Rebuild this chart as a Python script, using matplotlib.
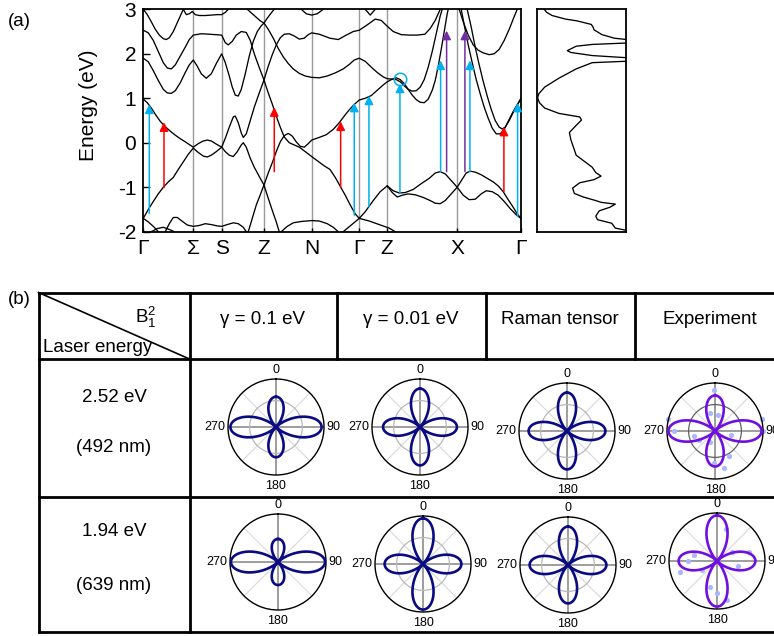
import numpy as np
import matplotlib
matplotlib.use('Agg')
import matplotlib.pyplot as plt

plt.rcParams['font.family'] = ['Liberation Sans', 'DejaVu Sans']
plt.rcParams['axes.unicode_minus'] = False
plt.rcParams['mathtext.fontset'] = 'custom'
plt.rcParams['mathtext.rm'] = 'Liberation Sans'
plt.rcParams['mathtext.it'] = 'Liberation Sans:italic'

# ---------------- data: band structure (k-path coordinate, energy in eV) ----------------
kpoint_pos = [0, 50, 78.4, 120.7, 168.4, 216, 244, 314, 377.8]
kpoint_labels = ['Γ', 'Σ', 'S', 'Z', 'N', 'Γ', 'Z', 'X', 'Γ']
energy_ticks = [-2, -1, 0, 1, 2, 3]

band_a_k = [0, 4, 8, 12, 17, 22, 27, 32, 37, 42, 46, 50, 55, 60, 64, 68, 73, 78.4, 82, 86, 90, 92, 95, 98, 100, 103, 107, 111, 116, 120.7,
            125, 129, 133, 137, 141, 146, 151, 156, 161, 165, 168.4, 176, 186.7, 195, 203, 210, 216, 224, 232, 238, 244, 250, 258, 266, 274, 281.7, 287, 292, 296, 297]
band_a_E = [0.98, 0.9, 0.78, 0.64, 0.48, 0.36, 0.26, 0.17, 0.09, 0.02, -0.04, -0.1, -0.02, 0.04, 0.06, 0.04, -0.03, -0.1, 0.1, 0.35, 0.58, 0.6, 0.45, 0.22, 0.12, 0.2, 0.5, 0.8, 1.12, 1.41,
            1.72, 1.98, 2.2, 2.36, 2.44, 2.45, 2.4, 2.33, 2.35, 2.43, 2.47, 2.44, 2.35, 2.32, 2.42, 2.5, 2.53, 2.65, 2.78, 2.75, 2.62, 2.5, 2.43, 2.42, 2.42, 2.44, 2.57, 2.75, 2.95, 3.0]

band_b_k = [0, 5, 10, 15, 20, 25, 30, 35, 40, 45, 50, 55, 60, 64, 68, 73, 78.4, 82, 86, 90, 94, 98, 100, 103, 107, 111, 116, 120.7, 125, 129, 133, 136]
band_b_E = [-1.7, -1.5, -1.32, -1.15, -1.0, -0.88, -0.78, -0.6, -0.43, -0.26, -0.12, -0.22, -0.3, -0.32, -0.28, -0.2, -0.1, -0.2, -0.28, -0.31, -0.2, -0.05, 0.0, -0.1, -0.35, -0.55, -0.76, -0.95, -1.25, -1.52, -1.78, -2.0]

band_c_k = [0, 5, 10, 15, 20, 24, 28, 32, 37, 42, 46, 50, 58, 66, 72, 78.4, 82, 85, 89, 93, 98, 103, 107, 111, 115, 120.7, 125, 129, 133, 137, 141, 146, 151, 156, 162, 168.4,
            175, 181, 186.7, 192, 197, 202, 207, 212, 216, 222, 230, 237, 244, 250, 256, 262, 270, 278, 286, 292, 297, 302, 308, 314, 320, 326, 332, 338, 343, 349, 355, 361, 367, 373, 377.8]
band_c_E = [2.53, 2.47, 2.3, 2.05, 1.8, 1.68, 1.66, 1.75, 1.95, 2.15, 2.32, 2.42, 2.45, 2.44, 2.43, 2.42, 2.25, 2.2, 2.28, 2.42, 2.5, 2.48, 2.3, 2.0, 1.75, 1.41, 1.12, 0.87, 0.6, 0.35, 0.13, 0.0, -0.05, -0.1, -0.2, -0.31,
            -0.42, -0.52, -0.6, -0.78, -0.98, -1.18, -1.4, -1.6, -1.7, -1.55, -1.3, -1.1, -0.97, -1.08, -1.13, -1.12, -1.05, -0.92, -0.8, -0.68, -0.65, -0.7, -0.85, -1.0, -1.18, -1.28, -1.27, -1.15, -1.08, -1.1, -1.18, -1.32, -1.48, -1.62, -1.7]

band_d_k = [105, 109, 113, 117, 120.7, 125, 129, 133, 137, 141, 145, 149, 153, 157, 161, 165, 168.4, 176, 183, 190, 196, 201, 206, 211, 216, 222, 228, 234, 240, 244, 249, 253, 257, 261, 265, 269, 273, 277, 281, 285, 289, 292, 295, 298, 301, 304, 305]
band_d_E = [-2.0, -1.7, -1.4, -1.17, -0.95, -0.68, -0.45, -0.2, 0.02, 0.16, 0.21, 0.15, 0.02, -0.08, -0.1, -0.02, 0.06, 0.12, 0.18, 0.3, 0.45, 0.6, 0.74, 0.86, 0.96, 1.0, 1.06, 1.18, 1.3, 1.37, 1.43, 1.46, 1.42, 1.33, 1.2, 1.07, 0.97, 0.91, 0.9, 0.98, 1.18, 1.4, 1.72, 2.1, 2.5, 2.9, 3.0]

band_e_k = [0, 5, 10, 15, 20, 24, 28, 32, 37, 42, 46, 50, 54, 58, 63, 68, 73, 78.4, 82, 86, 89, 92, 95, 98, 102, 106, 110, 114, 118, 120.7, 124, 128, 131]
band_e_E = [1.9, 1.82, 1.62, 1.4, 1.2, 1.12, 1.11, 1.17, 1.35, 1.58, 1.75, 1.86, 1.72, 1.55, 1.45, 1.55, 1.78, 2.0, 1.8, 1.5, 1.25, 1.07, 1.05, 1.2, 1.55, 1.95, 2.28, 2.5, 2.63, 2.69, 2.8, 2.92, 3.0]

band_f_k = [104, 108, 113, 117, 120.7, 125, 130, 135, 140, 145, 150, 156, 162, 168.4, 176, 184, 192, 200, 206, 211, 216, 222, 228, 234, 240, 244, 249, 253, 257, 261, 265, 269, 273, 277, 281, 285, 289, 293, 297, 299]
band_f_E = [3.0, 2.92, 2.82, 2.74, 2.69, 2.55, 2.35, 2.12, 1.93, 1.78, 1.66, 1.56, 1.5, 1.47, 1.46, 1.5, 1.57, 1.66, 1.76, 1.86, 1.9, 1.83, 1.7, 1.58, 1.48, 1.44, 1.43, 1.42, 1.37, 1.28, 1.2, 1.16, 1.17, 1.25, 1.42, 1.7, 2.05, 2.45, 2.85, 3.0]

band_top1_k = [0, 4, 8, 12, 16, 20, 23, 26, 30, 34, 38, 40]
band_top1_E = [3.0, 2.88, 2.72, 2.55, 2.42, 2.34, 2.32, 2.36, 2.5, 2.7, 2.9, 3.0]
band_top2_k = [40, 43, 46, 49, 52, 56, 62, 68, 74, 78.4, 82, 85]
band_top2_E = [3.0, 2.88, 2.9, 2.95, 2.88, 2.86, 2.86, 2.87, 2.88, 2.88, 2.93, 3.0]
band_top3_k = [158, 163, 168.4, 174, 180]
band_top3_E = [3.0, 2.9, 2.87, 2.9, 3.0]
band_top4_k = [222, 227, 232]
band_top4_E = [3.0, 2.87, 3.0]

band_bot1_k = [0, 5, 10, 15]
band_bot1_E = [-1.7, -1.78, -1.88, -2.0]
band_bot2_k = [8, 14, 20, 26, 31]
band_bot2_E = [-2.0, -1.93, -1.9, -1.95, -2.0]
band_bot3_k = [22, 26, 30, 34, 38, 44, 50, 56, 62, 68, 74, 78.4, 84, 90, 95, 100, 103]
band_bot3_E = [-2.0, -1.82, -1.68, -1.68, -1.75, -1.85, -1.88, -1.86, -1.82, -1.84, -1.87, -1.88, -1.84, -1.8, -1.82, -1.9, -2.0]
band_bot4_k = [138, 144, 150, 158, 168.4, 176, 184, 190, 195]
band_bot4_E = [-2.0, -1.88, -1.8, -1.77, -1.75, -1.76, -1.82, -1.9, -2.0]
band_g2_k = [200, 208, 216, 226, 236, 246, 252]
band_g2_E = [-2.0, -1.85, -1.7, -1.76, -1.84, -1.92, -2.0]

band_l2_k = [244, 249, 254, 259, 265, 272, 280, 287, 292, 297, 302, 308, 314, 319, 323, 327, 332, 338, 344, 350, 355, 360, 365, 370, 374, 377.8]
band_l2_E = [-0.97, -1.12, -1.22, -1.18, -1.15, -1.17, -1.23, -1.3, -1.36, -1.37, -1.3, -1.15, -1.0, -0.82, -0.68, -0.64, -0.66, -0.72, -0.8, -0.88, -0.97, -1.1, -1.28, -1.45, -1.6, -1.7]

band_v1_k = [318, 321, 325, 329, 333, 337, 341, 345, 349, 353, 357, 361, 365, 369, 373, 377.8]
band_v1_E = [3.0, 2.65, 2.2, 1.8, 1.42, 1.1, 0.8, 0.55, 0.33, 0.2, 0.2, 0.3, 0.48, 0.66, 0.82, 0.98]
band_v2_k = [324, 328, 332, 336, 340, 344, 348, 352, 356, 359, 362, 366, 370, 374, 377.8]
band_v2_E = [3.0, 2.6, 2.15, 1.75, 1.38, 1.05, 0.75, 0.5, 0.35, 0.31, 0.35, 0.5, 0.68, 0.85, 1.0]
band_w_k = [316, 320, 325, 330, 335, 340, 346, 351, 356, 361, 366, 370, 374]
band_w_E = [3.0, 2.72, 2.42, 2.2, 2.08, 2.02, 1.98, 2.0, 2.1, 2.3, 2.55, 2.78, 3.0]

bands = [(band_a_k, band_a_E), (band_b_k, band_b_E), (band_c_k, band_c_E), (band_d_k, band_d_E),
         (band_e_k, band_e_E), (band_f_k, band_f_E), (band_top1_k, band_top1_E), (band_top2_k, band_top2_E),
         (band_top3_k, band_top3_E), (band_top4_k, band_top4_E), (band_bot1_k, band_bot1_E), (band_bot2_k, band_bot2_E),
         (band_bot3_k, band_bot3_E), (band_bot4_k, band_bot4_E), (band_g2_k, band_g2_E), (band_l2_k, band_l2_E),
         (band_v1_k, band_v1_E), (band_v2_k, band_v2_E), (band_w_k, band_w_E)]

# transitions (arrows)
arrow_k = [6, 20.7, 131, 197.4, 211, 225.7, 256.7, 297.4, 303.4, 321.7, 326.7, 360.7, 374.4]
arrow_E0 = [-1.59, -1.01, -0.65, -1.01, -1.63, -1.44, -1.14, -0.65, -0.65, -0.65, -0.65, -1.1, -1.66]
arrow_E1 = [0.86, 0.46, 0.8, 0.48, 0.9, 1.06, 1.33, 1.85, 2.52, 2.52, 1.85, 0.36, 0.9]
arrow_kind = ['blue', 'red', 'red', 'red', 'blue', 'blue', 'blue', 'blue', 'purple', 'purple', 'blue', 'red', 'blue']
circle_k, circle_E = 256.7, 1.43

# density of states (energy, relative DOS)
dos_E = [3.0, 2.93, 2.86, 2.78, 2.74, 2.66, 2.6, 2.54, 2.43, 2.35, 2.3, 2.25, 2.21, 2.17, 2.07, 2.03, 1.96, 1.9, 1.84, 1.8, 1.66, 1.45,
         1.25, 1.1, 1.01, 0.9, 0.78, 0.66, 0.58, 0.51, 0.39, 0.23, 0.07, -0.16, -0.28, -0.4, -0.55, -0.67, -0.75, -0.83, -0.9, -1.02,
         -1.14, -1.22, -1.3, -1.34, -1.38, -1.45, -1.53, -1.65, -1.73, -1.81, -1.92, -1.96, -1.98]
dos_val = [0.08, 0.11, 0.17, 0.32, 0.45, 0.61, 0.63, 0.64, 0.73, 0.87, 1.1, 1.1, 0.62, 0.44, 0.34, 0.38, 0.62, 1.1, 1.1, 0.62, 0.44, 0.245,
           0.086, 0.02, 0.007, 0.027, 0.086, 0.245, 0.48, 0.5, 0.44, 0.364, 0.38, 0.42, 0.44, 0.52, 0.62, 0.66, 0.72, 0.64, 0.48, 0.4,
           0.42, 0.52, 0.66, 0.72, 0.88, 0.82, 0.7, 0.66, 0.68, 0.84, 0.88, 0.98, 1.02]

# ---------------- data: table (b) ----------------
col_headers = ['γ = 0.1 eV', 'γ = 0.01 eV', 'Raman tensor', 'Experiment']
row_energy = ['2.52 eV', '1.94 eV']
row_wavelength = ['(492 nm)', '(639 nm)']
# polar lobe lengths (fraction of outer radius): vertical (0/180) and horizontal (90/270)
lobe_vertical = [[0.63, 0.80, 0.80, 0.74], [0.48, 0.95, 0.80, 0.95]]
lobe_horizontal = [[0.95, 0.77, 0.80, 0.97], [0.98, 0.80, 0.80, 0.80]]
exp1_theta = [359, 344, 12, 284, 270, 256, 241, 205, 104, 76, 90, 152, 166, 181]
exp1_r = [0.86, 0.39, 0.35, 1.0, 0.85, 0.45, 0.37, 0.25, 0.34, 1.0, 1.0, 0.6, 0.8, 0.67]
exp2_theta = [16, 59, 74, 103, 284, 270, 254, 239, 194, 180, 165]
exp2_r = [0.69, 0.37, 0.69, 0.44, 0.49, 0.61, 0.81, 0.37, 0.56, 0.66, 0.84]
polar_tick_labels = ['0', '90', '180', '270']

# ---------------- figure ----------------
W, H = 774, 636
fig = plt.figure(figsize=(W / 100, H / 100), dpi=100)


def fbox(x0, y0, x1, y1):
    return [x0 / W, 1 - y1 / H, (x1 - x0) / W, (y1 - y0) / H]


# overlay for table lines / texts
ov = fig.add_axes([0, 0, 1, 1], zorder=0)
ov.set_xlim(0, W)
ov.set_ylim(H, 0)
ov.axis('off')

# ---- band structure ----
COL = {'blue': '#00B0F0', 'red': '#FF0000', 'purple': '#7030A0'}
ax = fig.add_axes(fbox(143.3, 9.3, 521, 231.7), zorder=2)
for xv in kpoint_pos[1:-1]:
    ax.axvline(xv, color='#9a9a9a', lw=1.0, zorder=1)
for kk, ee in bands:
    ax.plot(kk, ee, color='black', lw=0.95, zorder=3, solid_joinstyle='round')
for kx, e0, e1, kind in zip(arrow_k, arrow_E0, arrow_E1, arrow_kind):
    ax.annotate('', xy=(kx, e1), xytext=(kx, e0),
                arrowprops=dict(arrowstyle='-|>', color=COL[kind], lw=1.1,
                                mutation_scale=13, shrinkA=0, shrinkB=0), zorder=4)
ax.plot([circle_k], [circle_E], marker='o', ms=9, mfc='none', mec=COL['blue'], mew=1.1, zorder=5)
ax.set_xlim(kpoint_pos[0], kpoint_pos[-1])
ax.set_ylim(-2, 3)
ax.set_yticks(energy_ticks)
ax.set_yticklabels([str(t) for t in energy_ticks])
ax.set_xticks(kpoint_pos)
ax.set_xticklabels(kpoint_labels)
ax.tick_params(axis='both', direction='in', labelsize=15, length=5, width=1)
ax.tick_params(axis='y', pad=5)
ax.tick_params(axis='x', pad=5, length=3)
for s in ax.spines.values():
    s.set_linewidth(1.3)
fig.text(89 / W, 1 - 105 / H, 'Energy (eV)', rotation=90, ha='center', va='center', fontsize=15)
fig.text(8 / W, 1 - 22 / H, '(a)', ha='left', va='center', fontsize=13.5)

# ---- DOS ----
axd = fig.add_axes(fbox(537, 9.3, 626, 231.7), zorder=2)
axd.plot(dos_val, dos_E, color='black', lw=0.95)
axd.set_xlim(0, 1)
axd.set_ylim(-2, 3)
axd.set_xticks([])
axd.set_yticks([])
for s in axd.spines.values():
    s.set_linewidth(1.3)

# ---- table ----
fig.text(8 / W, 1 - 300 / H, '(b)', ha='left', va='center', fontsize=13.5)
TL = 38.5
TOP, HB, R1B, BOT = 292.5, 359, 497, 632
C1 = 189.5
hcols = [189.5, 336.5, 485.5, 634.5]
lw_t = 2.0
for yv in [TOP, HB, R1B, BOT]:
    ov.plot([TL, W + 10], [yv, yv], color='black', lw=lw_t, clip_on=False, solid_capstyle='projecting')
ov.plot([TL, TL], [TOP, BOT], color='black', lw=lw_t, solid_capstyle='projecting')
ov.plot([C1, C1], [TOP, BOT], color='black', lw=lw_t)
for xv in hcols[1:]:
    ov.plot([xv, xv], [TOP, HB], color='black', lw=lw_t)
ov.plot([TL, C1], [TOP, HB], color='black', lw=1.2)
ov.text(156, 317, r'$\mathregular{B_1^2}$', ha='right', va='center', fontsize=13.5)
ov.text(43, 348, 'Laser energy', ha='left', va='center', fontsize=13.5)
hcenters = [263, 411, 560, 710]
for xc, t in zip(hcenters, col_headers):
    ov.text(xc, 320, t, ha='center', va='center', fontsize=13.5)
row_y = [(397, 448), (531, 585)]
for (y1, y2), e, w in zip(row_y, row_energy, row_wavelength):
    ov.text(114, y1, e, ha='center', va='center', fontsize=13.5)
    ov.text(114, y2, w, ha='center', va='center', fontsize=13.5)

# ---- polar panels ----
centers = [[(276, 427), (420, 427), (567, 431), (715, 431)],
           [(278, 562), (423, 564), (568, 565), (717, 561)]]
inner_style = [['#b8b8b8', '#b8b8b8', '#b8b8b8', '#606060'], [None, '#b8b8b8', '#b8b8b8', None]]
Rpx = 48
theta = np.linspace(0, 2 * np.pi, 721)
exp_sets = [(exp1_theta, exp1_r), (exp2_theta, exp2_r)]
for i in range(2):
    for j in range(4):
        cx, cy = centers[i][j]
        pa = fig.add_axes(fbox(cx - Rpx, cy - Rpx, cx + Rpx, cy + Rpx), projection='polar', zorder=3)
        pa.set_theta_zero_location('N')
        pa.set_theta_direction(-1)
        pa.set_ylim(0, 1)
        pa.grid(False)
        pa.set_xticks([])
        pa.set_yticks([])
        pa.spines['polar'].set_linewidth(1.0)
        pa.patch.set_alpha(0)
        for a in [45, 135, 225, 315]:
            pa.plot([np.radians(a), np.radians(a)], [0, 1], color='#dcdcdc', lw=0.9, zorder=1)
        for a in [0, 90, 180, 270]:
            pa.plot([np.radians(a), np.radians(a)], [0, 1], color='#8c8c8c', lw=1.2, zorder=1)
        if inner_style[i][j] is not None:
            pa.plot(theta, np.full_like(theta, 0.55), color=inner_style[i][j], lw=0.9, zorder=1)
        V = lobe_vertical[i][j]
        Hh = lobe_horizontal[i][j]
        r = np.abs(np.cos(2 * theta)) ** 1.4 * (V * np.cos(theta) ** 2 + Hh * np.sin(theta) ** 2)
        color = '#7010E0' if j == 3 else '#0A0A82'
        if j == 3:
            et, er = exp_sets[i]
            pa.scatter(np.radians(et), er, s=14, color='#aab6ff', zorder=2, clip_on=False, linewidths=0)
        pa.plot(theta, r, color=color, lw=1.9, zorder=3)
        pa.text(0.5, 1.0 + 3 / 96, polar_tick_labels[0], transform=pa.transAxes, ha='center', va='bottom', fontsize=9)
        pa.text(1.0 + 2 / 96, 0.5, polar_tick_labels[1], transform=pa.transAxes, ha='left', va='center', fontsize=9)
        pa.text(0.5, -5 / 96, polar_tick_labels[2], transform=pa.transAxes, ha='center', va='top', fontsize=9)
        pa.text(-3 / 96, 0.5, polar_tick_labels[3], transform=pa.transAxes, ha='right', va='center', fontsize=9)

fig.savefig('out.png', dpi=100)
